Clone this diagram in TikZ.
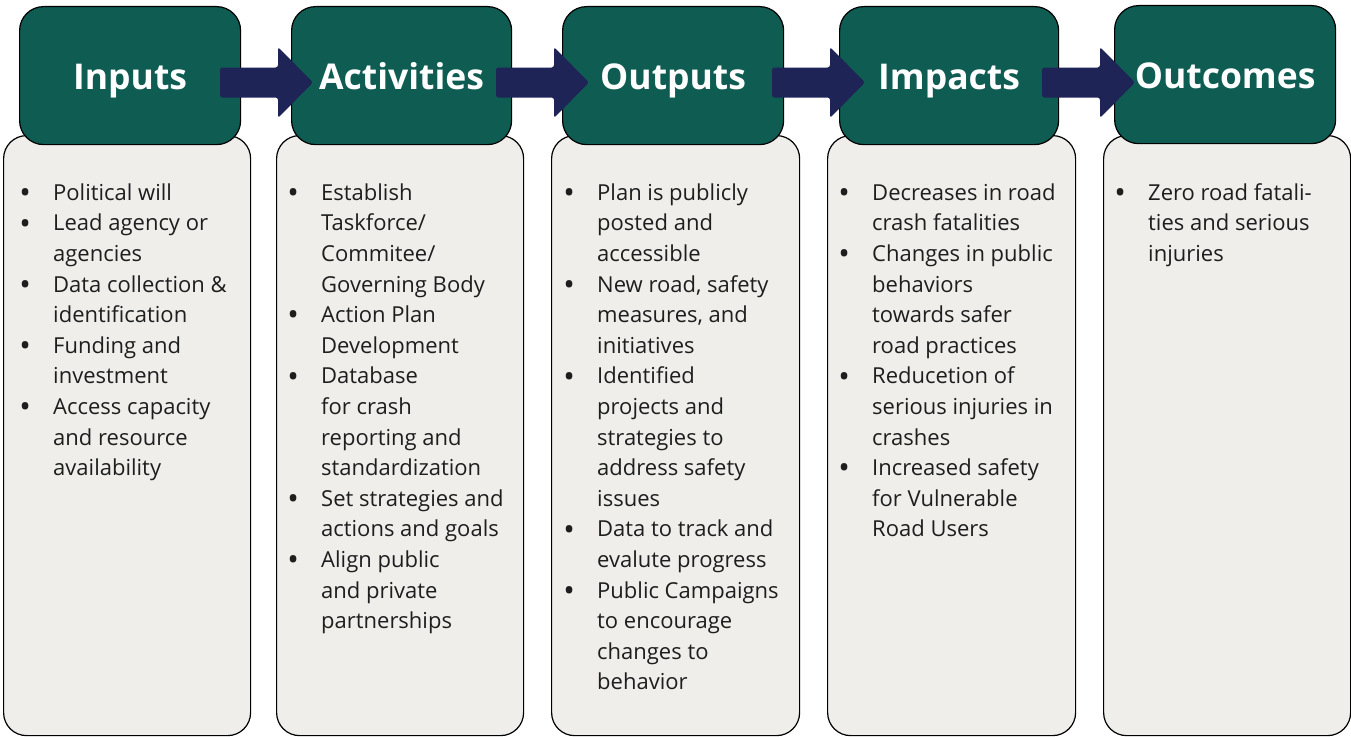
\documentclass[tikz,border=0pt]{standalone}
\usepackage{fontspec}
\setmainfont{Open Sans}
\usetikzlibrary{calc}

\definecolor{hdrteal}{HTML}{0F5C53}
\definecolor{arrnavy}{HTML}{1F2457}
\definecolor{bodygrey}{HTML}{EFEEEB}
\definecolor{txtdark}{HTML}{1E1E1E}

% bullet hanging 28bp left of the item text
\newcommand{\itm}{\llap{\makebox[56bp][c]{\raisebox{-3.2bp}{\scalebox{1.4}{\textbullet}}}}}

\tikzset{
  bodybox/.style={draw=black, line width=1.2bp, fill=bodygrey, rounded corners=23bp,
    anchor=north west, minimum width=247bp, minimum height=600bp, inner sep=0},
  hdrbox/.style={draw=black, line width=1.2bp, fill=hdrteal, rounded corners=24bp,
    anchor=north west, minimum width=221bp, minimum height=138bp, inner sep=0},
  hdrtext/.style={text=white, font=\fontsize{35.5bp}{40bp}\selectfont\bfseries,
    inner sep=0, anchor=base},
  listtext/.style={text=txtdark, font=\fontsize{22bp}{30.6bp}\selectfont,
    align=left, anchor=north west, inner sep=0},
  blockarrow/.pic={
    \fill[arrnavy, rounded corners=2.5bp]
      (0,-15) -- (58,-15) -- (58,-35.5) -- (93,0) -- (58,35.5) -- (58,15) -- (0,15) -- cycle;
  }
}

\begin{document}
\begin{tikzpicture}[x=1bp, y=-1bp]
  \useasboundingbox (0,0) rectangle (1351,736);

  % column bodies
  \node[bodybox] (b1) at (3,135) {};
  \node[bodybox] (b2) at (276,135) {};
  \node[bodybox, minimum width=248bp] (b3) at (551,135) {};
  \node[bodybox, minimum width=248bp] (b4) at (827,135) {};
  \node[bodybox] (b5) at (1103,135) {};

  % headers
  \node[hdrbox] (h1) at (19,6) {};
  \node[hdrbox, minimum width=220bp] (h2) at (291,6) {};
  \node[hdrbox] (h3) at (562,6) {};
  \node[hdrbox, minimum width=219bp] (h4) at (839,6) {};
  \node[hdrbox] (h5) at (1114,5) {};

  \node[hdrtext] (t1) at ($(h1.center)+(0,14)$) {Inputs};
  \node[hdrtext] (t2) at ($(h2.center)+(0,14)$) {Activities};
  \node[hdrtext] (t3) at ($(h3.center)+(0,14)$) {Outputs};
  \node[hdrtext] (t4) at ($(h4.center)+(0,14)$) {Impacts};
  \node[hdrtext] (t5) at ($(h5.center)+(0,14)$) {Outcomes};

  % block arrows between the stages
  \pic at (220,82.5) {blockarrow};
  \pic at (496,82.5) {blockarrow};
  \pic at (772,82.5) {blockarrow};
  \pic at (1042,82.5) {blockarrow};

  % bullet lists
  \node[listtext] (l1) at (53,178.6) {\strut\itm Political will\\
    \itm Lead agency or\\ agencies\\
    \itm Data collection \&\\ identification\\
    \itm Funding and\\ investment\\
    \itm Access capacity\\ and resource\\ availability};

  \node[listtext] (l2) at (321,178.6) {\strut\itm Establish\\ Taskforce/\\ Commitee/\\ Governing Body\\
    \itm Action Plan\\ Development\\
    \itm Database\\ for crash\\ reporting and\\ standardization\\
    \itm Set strategies and\\ actions and goals\\
    \itm Align public\\ and private\\ partnerships};

  \node[listtext] (l3) at (597,178.6) {\strut\itm Plan is publicly\\ posted and\\ accessible\\
    \itm New road, safety\\ measures, and\\ initiatives\\
    \itm Identified\\ projects and\\ strategies to\\ address safety\\ issues\\
    \itm Data to track and\\ evalute progress\\
    \itm Public Campaigns\\ to encourage\\ changes to\\ behavior};

  \node[listtext] (l4) at (872,178.6) {\strut\itm Decreases in road\\ crash fatalities\\
    \itm Changes in public\\ behaviors\\ towards safer\\ road practices\\
    \itm Reducetion of\\ serious injuries in\\ crashes\\
    \itm Increased safety\\ for Vulnerable\\ Road Users};

  \node[listtext] (l5) at (1148,178.6) {\strut\itm Zero road fatali-\\ ties and serious\\ injuries};
\end{tikzpicture}
\end{document}
